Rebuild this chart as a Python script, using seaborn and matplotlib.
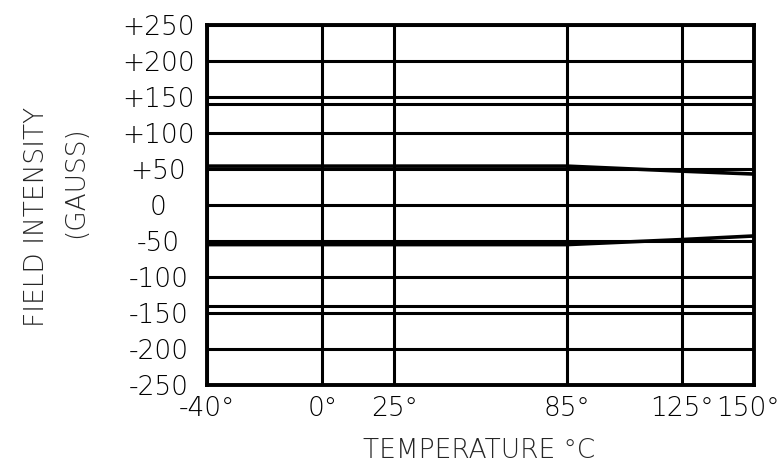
import matplotlib
matplotlib.use("Agg")
import matplotlib.pyplot as plt
import matplotlib.transforms as mtransforms
import seaborn as sns
import pandas as pd

# Temperature axis (degrees C) and field intensity curves (gauss)
temperature = [-40, 0, 25, 85, 125, 150]
upper_field = [54, 54, 54, 54, 47, 43]
lower_field = [-55, -55, -55, -55, -48, -43]

# Extra horizontal limit lines drawn next to the +/-150 grid lines
limit_lines = [140, -140]

x_ticks = [-40, 0, 25, 85, 125, 150]
x_tick_labels = ["-40°", "0°", "25°", "85°", "125°", "150°"]
y_ticks = [250, 200, 150, 100, 50, 0, -50, -100, -150, -200, -250]
y_tick_labels = ["+250", "+200", "+150", "+100", "+50", "0",
                 "-50", "-100", "-150", "-200", "-250"]

sns.set_style("white")
plt.rcParams["font.family"] = ["DejaVu Sans"]
TEXT_WEIGHT = 200
TEXT_SIZE = 19

df = pd.DataFrame({
    "temperature": temperature * 2,
    "field": upper_field + lower_field,
    "curve": ["upper"] * len(temperature) + ["lower"] * len(temperature),
})

fig = plt.figure(figsize=(7.83, 4.76), dpi=100)
ax = fig.add_axes([207 / 783, 1 - 385 / 476, (754 - 207) / 783, (385 - 25) / 476])

ax.set_xlim(-40, 150)
ax.set_ylim(-250, 250)

# grid
for xv in x_ticks:
    ax.axvline(xv, color="black", lw=2.2, zorder=1)
for yv in y_ticks:
    ax.axhline(yv, color="black", lw=2.2, zorder=1)
for yv in limit_lines:
    ax.axhline(yv, color="black", lw=2.2, zorder=1)

sns.lineplot(data=df, x="temperature", y="field", units="curve", estimator=None,
             color="black", lw=2.6, ax=ax, zorder=3, legend=False)

for s in ax.spines.values():
    s.set_color("black")
    s.set_linewidth(2.8)

ax.set_xticks(x_ticks)
ax.set_xticklabels(x_tick_labels)
ax.set_yticks(y_ticks)
ax.set_yticklabels(y_tick_labels)
ax.tick_params(axis="both", length=0, labelsize=TEXT_SIZE, colors="black")
ax.tick_params(axis="y", pad=35)
ax.tick_params(axis="x", pad=8)
for lbl in ax.get_yticklabels():
    lbl.set_ha("center")
    lbl.set_fontweight(TEXT_WEIGHT)
for lbl in ax.get_xticklabels():
    lbl.set_fontweight(TEXT_WEIGHT)

# keep the right-most temperature label inside the canvas
last = ax.get_xticklabels()[-1]
last.set_transform(last.get_transform() +
                   mtransforms.ScaledTranslation(-6 / 100, 0, fig.dpi_scale_trans))

ax.set_xlabel("")
ax.set_ylabel("")

fig.text(479 / 783, 1 - 451 / 476, "TEMPERATURE °C", ha="center", va="center",
         fontsize=TEXT_SIZE, fontweight=TEXT_WEIGHT)
fig.text(37 / 783, 1 - 217 / 476, "FIELD INTENSITY", ha="center", va="center",
         rotation=90, fontsize=TEXT_SIZE, fontweight=TEXT_WEIGHT)
fig.text(76 / 783, 1 - 182 / 476, "(GAUSS)", ha="center", va="center",
         rotation=90, fontsize=TEXT_SIZE, fontweight=TEXT_WEIGHT)

fig.savefig("out.png", dpi=100)
